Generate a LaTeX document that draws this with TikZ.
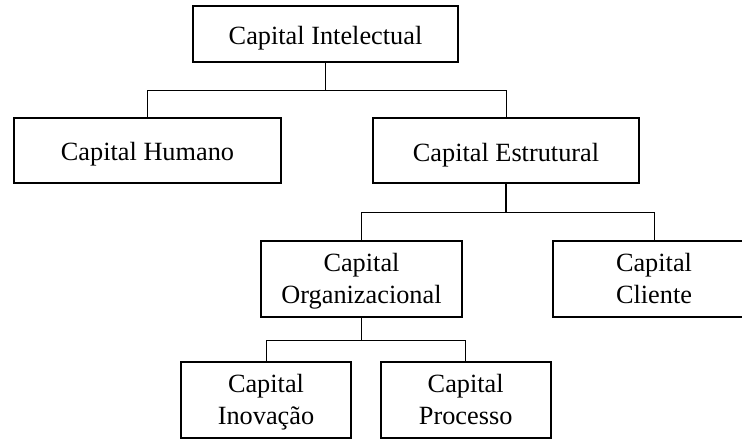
\documentclass[tikz,border=0pt]{standalone}
\usepackage{fontspec}
\setmainfont{Liberation Serif}
% struts that place the baselines inside the boxes
\newcommand\onestrut{\rule[-7pt]{0pt}{35pt}}
\newcommand\twostrut{\rule[-7pt]{0pt}{31pt}}
\begin{document}
\begin{tikzpicture}[x=1pt,y=-1pt,
  box/.style={draw=black, line width=1.9pt, fill=white, rectangle, inner sep=0pt,
    align=center, font=\fontsize{26.3}{30}\selectfont},
  link/.style={draw=black, line width=0.9pt}]
  \useasboundingbox (0,0) rectangle (742,439);
  \clip (0,0) rectangle (742,439);

  % boxes of the hierarchy
  \node[box, minimum width=265pt, minimum height=56pt]   (intel) at (325.5,34)    {\onestrut Capital Intelectual};
  \node[box, minimum width=267pt, minimum height=64.5pt] (hum)   at (147.5,150.3) {\onestrut Capital Humano};
  \node[box, minimum width=266pt, minimum height=65pt]   (est)   at (506,150.5)   {\onestrut Capital Estrutural};
  \node[box, minimum width=201pt, minimum height=76pt]   (org)   at (361.5,278.6) {\twostrut Capital\\\twostrut Organizacional};
  \node[box, minimum width=202pt, minimum height=76pt]   (cli)   at (654,278.7)   {\twostrut Capital\\\twostrut Cliente};
  \node[box, minimum width=169.5pt, minimum height=76pt] (ino)   at (266,400.2)   {\twostrut Capital\\\twostrut Inovação};
  \node[box, minimum width=170pt, minimum height=76pt]   (pro)   at (465.7,400.2) {\twostrut Capital\\\twostrut Processo};

  % tree connectors
  \draw[link] (intel.south) -- ++(0,27.6) coordinate (j1);
  \draw[link] (hum.north) |- (j1) -| (est.north);

  \draw[link, line width=1.3pt] (est.south) -- ++(0,28.7) coordinate (j2);
  \draw[link] (org.north) |- (j2) -| (cli.north);

  \draw[link] (org.south) -- ++(0,23.3) coordinate (j3);
  \draw[link] (ino.north) |- (j3) -| (pro.north);
\end{tikzpicture}
\end{document}
